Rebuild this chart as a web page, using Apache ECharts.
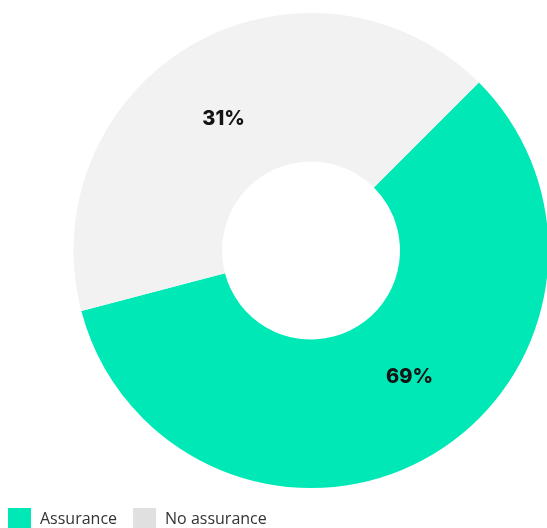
<!DOCTYPE html>
<html>
<head>
<meta charset="utf-8">
<script src="https://cdn.jsdelivr.net/npm/echarts@6/dist/echarts.min.js"></script>
<style>
html,body{margin:0;padding:0;background:#fff;}
#c{width:547px;height:528px;}
</style>
</head>
<body>
<div id="c"></div>
<script>
// Categories and values
const categories = ['Assurance', 'No assurance'];
// Percentages printed on the chart
const labelValues = [69, 31];
// Shares as the slices are actually drawn in the reference (measured angles)
const sliceShares = [58.4, 41.6];
const sliceColors = ['#00E8B6', '#F2F2F2'];
const legendColors = ['#00E8B6', '#E0E0E0'];
const labelOffsets = [[4, -5], [7, -1]];

const chart = echarts.init(document.getElementById('c'));
chart.setOption({
  animation: false,
  backgroundColor: '#ffffff',
  legend: {
    left: 8,
    top: 508,
    padding: 0,
    itemWidth: 23,
    itemHeight: 23,
    itemGap: 16,
    icon: 'rect',
    selectedMode: false,
    textStyle: { fontFamily: 'Open Sans', fontSize: 16, color: '#333333', padding: [6, 0, 0, 4] },
    data: categories.map((n, i) => ({ name: n, itemStyle: { color: legendColors[i] } }))
  },
  series: [
    {
      type: 'pie',
      center: [311, 250.5],
      radius: [89, 237.5],
      startAngle: 45,
      clockwise: true,
      silent: true,
      label: { show: false },
      labelLine: { show: false },
      data: categories.map((n, i) => ({ name: n, value: sliceShares[i], itemStyle: { color: sliceColors[i] } }))
    },
    {
      type: 'pie',
      center: [311, 250.5],
      radius: [80, 237],
      startAngle: 70,
      clockwise: true,
      silent: true,
      legendHoverLink: false,
      itemStyle: { color: 'rgba(0,0,0,0)' },
      label: {
        show: true,
        position: 'inside',
        formatter: '{c}%',
        fontFamily: 'Inter',
        fontWeight: 800,
        fontSize: 20,
        color: '#141414'
      },
      labelLine: { show: false },
      data: categories.map((n, i) => ({ name: n, value: labelValues[i], label: { offset: labelOffsets[i] } }))
    }
  ]
});
</script>
</body>
</html>
